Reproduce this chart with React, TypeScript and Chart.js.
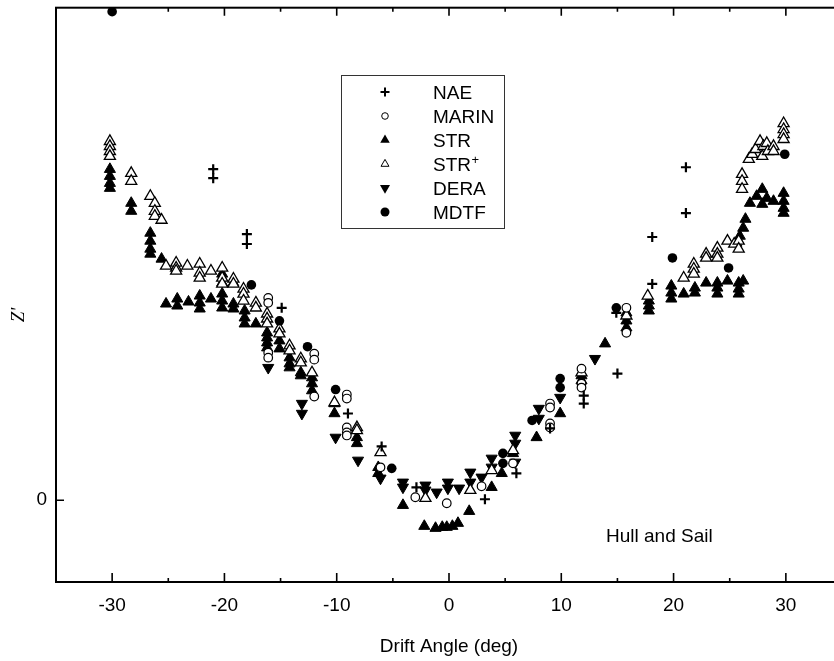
import React, { useEffect, useRef } from 'react';
import { Chart, registerables } from 'chart.js';

Chart.register(...registerables);

// ---- data (x = drift angle in deg, y = Z') ----
const naePoints: number[][] = [
  [-21.0, 3.32], [-21.0, 3.23], [-18.0, 2.67], [-18.0, 2.57], [-14.9, 1.93], [-9.0, 0.87], [-6.0, 0.54],
  [-2.9, 0.13], [3.2, 0.01], [6.0, 0.27], [9.0, 0.72], [12.0, 1.05], [12.0, 0.97], [15.0, 1.27], [14.9, 1.88],
  [18.1, 2.17], [18.1, 2.64], [21.1, 2.88], [21.1, 3.34],
];

const marinPoints: number[][] = [
  [-16.1, 2.03], [-16.1, 1.98], [-16.1, 1.48], [-16.1, 1.43], [-12.0, 1.47], [-12.0, 1.41], [-12.0, 1.04],
  [-9.1, 1.06], [-9.1, 1.02], [-9.1, 0.73], [-9.1, 0.68], [-9.1, 0.65], [-6.1, 0.33], [-3.0, 0.03], [-0.2, -0.03],
  [2.9, 0.14], [5.7, 0.37], [9.0, 0.97], [9.0, 0.93], [9.0, 0.77], [9.0, 0.73], [11.8, 1.32], [11.8, 1.17],
  [11.8, 1.13], [15.8, 1.93], [15.8, 1.68],
];

const strPoints: number[][] = [
  [-30.2, 3.32], [-30.2, 3.25], [-30.2, 3.18], [-30.2, 3.13], [-28.3, 2.98], [-28.3, 2.90],
  [-26.6, 2.68], [-26.6, 2.60], [-26.6, 2.52], [-26.6, 2.47], [-25.6, 2.42],
  [-25.2, 1.97], [-24.2, 2.02], [-24.2, 1.95], [-23.2, 1.99], [-22.2, 2.05], [-22.2, 1.98], [-22.2, 1.92],
  [-21.2, 2.02], [-20.2, 2.07], [-20.2, 2.00], [-20.2, 1.93], [-19.2, 1.97], [-19.2, 1.92],
  [-20.2, 2.27], [-20.2, 2.18], [-19.2, 2.18], [-18.2, 1.90], [-18.2, 1.83], [-18.2, 1.77], [-17.2, 1.77],
  [-16.2, 1.68], [-16.2, 1.63], [-16.2, 1.58], [-16.2, 1.53], [-15.1, 1.60], [-15.1, 1.52],
  [-14.2, 1.43], [-14.2, 1.37], [-14.2, 1.33], [-13.2, 1.28], [-13.2, 1.25], [-12.2, 1.23], [-12.2, 1.17], [-12.2, 1.10],
  [-10.2, 0.97], [-10.2, 0.87], [-8.2, 0.63], [-8.2, 0.57], [-6.3, 0.33], [-6.3, 0.27], [-4.1, -0.05],
  [-2.2, -0.26], [-1.2, -0.28], [-0.6, -0.27], [-0.2, -0.27], [0.3, -0.26], [0.8, -0.23], [1.8, -0.11],
  [3.8, 0.13], [4.7, 0.27], [5.7, 0.47], [7.8, 0.63], [9.9, 0.87], [11.8, 1.25], [11.8, 1.20], [13.9, 1.57],
  [15.8, 1.88], [15.8, 1.80], [15.8, 1.73], [17.8, 2.00], [17.8, 1.95], [17.8, 1.90],
  [19.8, 2.15], [19.8, 2.08], [19.8, 2.02], [20.9, 2.07], [21.9, 2.13], [21.9, 2.08], [22.9, 2.18],
  [23.9, 2.18], [23.9, 2.13], [23.9, 2.07], [24.8, 2.20], [25.8, 2.18], [25.8, 2.12], [25.8, 2.07], [26.2, 2.20],
  [25.6, 2.58], [25.9, 2.65], [26.2, 2.73], [26.4, 2.82],
  [26.8, 2.98], [27.4, 3.05], [27.9, 3.12], [28.3, 3.03], [27.9, 2.97], [28.9, 3.00],
  [29.8, 3.08], [29.8, 3.00], [29.8, 2.93], [29.8, 2.88],
];

const strPlusPoints: number[][] = [
  [-30.2, 3.60], [-30.2, 3.55], [-30.2, 3.50], [-30.2, 3.45], [-28.3, 3.28], [-28.3, 3.20], [-26.6, 3.05],
  [-26.2, 2.98], [-26.2, 2.90], [-26.2, 2.85], [-25.6, 2.81],
  [-25.2, 2.35], [-24.3, 2.38], [-24.3, 2.33], [-24.3, 2.30], [-23.3, 2.35], [-22.2, 2.37], [-22.2, 2.28],
  [-22.2, 2.23], [-21.2, 2.30], [-20.2, 2.33], [-20.2, 2.23], [-20.2, 2.17], [-19.2, 2.22], [-19.2, 2.17],
  [-18.3, 2.12], [-18.3, 2.07], [-18.3, 2.00], [-17.2, 1.98], [-17.2, 1.93], [-16.2, 1.87], [-16.2, 1.82],
  [-16.2, 1.77], [-15.1, 1.72], [-15.1, 1.67], [-14.2, 1.55], [-14.2, 1.50], [-13.2, 1.42], [-13.2, 1.38],
  [-12.2, 1.28], [-10.2, 0.98], [-8.2, 0.73], [-8.2, 0.70], [-6.1, 0.48], [-2.1, 0.02], [1.9, 0.10],
  [3.8, 0.30], [5.7, 0.50], [11.8, 1.28], [15.8, 1.85], [17.7, 2.05],
  [20.9, 2.23], [21.8, 2.37], [21.8, 2.32], [21.8, 2.27], [22.9, 2.47], [22.9, 2.43], [23.9, 2.53],
  [23.9, 2.47], [23.9, 2.43], [24.8, 2.60], [25.4, 2.57], [25.8, 2.60], [25.8, 2.52],
  [26.1, 3.27], [26.1, 3.20], [26.1, 3.12],
  [26.7, 3.42], [27.0, 3.47], [27.3, 3.52], [27.7, 3.60], [28.0, 3.55], [28.3, 3.58], [27.9, 3.45],
  [28.4, 3.50], [28.9, 3.55], [28.9, 3.50],
  [29.8, 3.78], [29.8, 3.72], [29.8, 3.67], [29.8, 3.62],
];

const deraPoints: number[][] = [
  [-16.1, 1.33], [-13.1, 0.97], [-13.1, 0.87], [-10.1, 0.63], [-8.1, 0.40], [-6.1, 0.22], [-4.1, 0.18],
  [-4.1, 0.13], [-2.1, 0.15], [-2.1, 0.10], [-1.1, 0.08], [-0.1, 0.18], [-0.1, 0.12], [0.9, 0.12],
  [1.9, 0.28], [1.9, 0.18], [2.9, 0.23], [3.8, 0.42], [3.8, 0.33], [5.9, 0.65], [5.9, 0.57], [5.9, 0.38],
  [8.0, 0.92], [8.0, 0.82], [9.9, 1.03], [13.0, 1.42],
];

const mdtfPoints: number[][] = [
  [-30.0, 4.90], [-17.6, 2.16], [-15.1, 1.80], [-12.6, 1.54], [-10.1, 1.11], [-5.1, 0.32], [4.8, 0.47],
  [4.8, 0.37], [7.4, 0.80], [9.9, 1.22], [9.9, 1.13], [14.9, 1.93], [19.9, 2.43], [24.9, 2.33], [29.9, 3.47],
];

const seriesNames = ['NAE', 'MARIN', 'STR', 'STR+', 'DERA', 'MDTF'];
const xTickValues = [-30, -20, -10, 0, 10, 20, 30];
const xMinorTickValues = [-25, -15, -5, 5, 15, 25];
const yTickValues = [0];
const xTitle = 'Drift Angle (deg)';
const yTitle = "Z'";
const annotation = 'Hull and Sail';

const SANS = "'Liberation Sans', Arial, Helvetica, sans-serif";

const toXY = (pts: number[][]) => pts.map(([x, y]) => ({ x, y }));

function drawSymbol(ctx: CanvasRenderingContext2D, kind: string, cx: number, cy: number) {
  ctx.save();
  ctx.strokeStyle = '#000';
  ctx.fillStyle = '#000';
  if (kind === 'NAE') {
    ctx.lineWidth = 2;
    ctx.beginPath();
    ctx.moveTo(cx - 4.5, cy); ctx.lineTo(cx + 4.5, cy);
    ctx.moveTo(cx, cy - 4.5); ctx.lineTo(cx, cy + 4.5);
    ctx.stroke();
  } else if (kind === 'MARIN') {
    ctx.lineWidth = 1;
    ctx.beginPath(); ctx.arc(cx, cy, 3.3, 0, Math.PI * 2); ctx.stroke();
  } else if (kind === 'MDTF') {
    ctx.beginPath(); ctx.arc(cx, cy, 4.5, 0, Math.PI * 2); ctx.fill();
  } else if (kind === 'STR' || kind === 'STR+') {
    const r = kind === 'STR' ? 5.5 : 4.6;
    ctx.beginPath();
    ctx.moveTo(cx, cy - r);
    ctx.lineTo(cx + r * 0.866, cy + r * 0.5);
    ctx.lineTo(cx - r * 0.866, cy + r * 0.5);
    ctx.closePath();
    if (kind === 'STR') ctx.fill();
    else { ctx.lineWidth = 1; ctx.fillStyle = '#fff'; ctx.fill(); ctx.stroke(); }
  } else if (kind === 'DERA') {
    const r = 5.8;
    ctx.beginPath();
    ctx.moveTo(cx, cy + r);
    ctx.lineTo(cx + r * 0.866, cy - r * 0.5);
    ctx.lineTo(cx - r * 0.866, cy - r * 0.5);
    ctx.closePath();
    ctx.fill();
  }
  ctx.restore();
}

const decorPlugin = {
  id: 'decor',
  afterDraw(chart: any) {
    const { ctx, chartArea: a, scales } = chart;
    const xs = scales.x;
    const ys = scales.y;
    ctx.save();
    // frame
    ctx.strokeStyle = '#000';
    ctx.lineWidth = 2;
    ctx.strokeRect(a.left, a.top, a.right - a.left, a.bottom - a.top);
    // inward ticks
    ctx.lineWidth = 1.6;
    ctx.beginPath();
    xTickValues.forEach((v) => {
      const px = xs.getPixelForValue(v);
      ctx.moveTo(px, a.bottom); ctx.lineTo(px, a.bottom - 9);
      ctx.moveTo(px, a.top); ctx.lineTo(px, a.top + 8);
    });
    xMinorTickValues.forEach((v) => {
      const px = xs.getPixelForValue(v);
      ctx.moveTo(px, a.bottom); ctx.lineTo(px, a.bottom - 4);
      ctx.moveTo(px, a.top); ctx.lineTo(px, a.top + 4);
    });
    yTickValues.forEach((v) => {
      const py = ys.getPixelForValue(v);
      ctx.moveTo(a.left, py); ctx.lineTo(a.left + 8, py);
      ctx.moveTo(a.right, py); ctx.lineTo(a.right - 8, py);
    });
    ctx.stroke();

    // y title
    ctx.save();
    ctx.translate(19, 315);
    ctx.rotate(-Math.PI / 2);
    ctx.font = "italic 19px 'Liberation Serif', 'Times New Roman', serif";
    ctx.fillStyle = '#000';
    ctx.textAlign = 'center';
    ctx.textBaseline = 'middle';
    ctx.fillText(yTitle, 0, 0);
    ctx.restore();

    // annotation
    ctx.font = `19px ${SANS}`;
    ctx.fillStyle = '#000';
    ctx.textAlign = 'left';
    ctx.textBaseline = 'alphabetic';
    ctx.fillText(annotation, 606, 542);

    // legend
    ctx.lineWidth = 1;
    ctx.strokeStyle = '#333';
    ctx.strokeRect(341.5, 75.5, 163, 153);
    seriesNames.forEach((name, i) => {
      const cy = 92 + i * 24;
      drawSymbol(ctx, name, 385, cy);
      ctx.fillStyle = '#000';
      ctx.font = `19px ${SANS}`;
      ctx.textAlign = 'left';
      ctx.textBaseline = 'alphabetic';
      const base = 99 + i * 24;
      if (name === 'STR+') {
        ctx.fillText('STR', 433, base);
        const w = ctx.measureText('STR').width;
        ctx.font = `13px ${SANS}`;
        ctx.fillText('+', 433 + w + 0.5, base - 7);
      } else {
        ctx.fillText(name, 433, base);
      }
    });
    ctx.restore();
  },
};

export default function App() {
  const canvasRef = useRef<HTMLCanvasElement | null>(null);

  useEffect(() => {
    const canvas = canvasRef.current;
    if (!canvas) return;
    const common = { showLine: false, clip: false as any, borderColor: '#000' };
    const chart = new Chart(canvas, {
      type: 'scatter',
      data: {
        datasets: [
          { ...common, label: 'MDTF', data: toXY(mdtfPoints), pointStyle: 'circle', pointRadius: 4.8, backgroundColor: '#000', pointBorderWidth: 0 },
          { ...common, label: 'NAE', data: toXY(naePoints), pointStyle: 'cross', pointRadius: 5, pointBorderWidth: 2.2, backgroundColor: '#000' },
          { ...common, label: 'MARIN', data: toXY(marinPoints), pointStyle: 'circle', pointRadius: 4.3, pointBorderWidth: 1.2, backgroundColor: '#fff' },
          { ...common, label: 'STR+', data: toXY(strPlusPoints), pointStyle: 'triangle', pointRadius: 6.4, pointBorderWidth: 1.3, backgroundColor: '#fff' },
          { ...common, label: 'STR', data: toXY(strPoints), pointStyle: 'triangle', pointRadius: 6.4, pointBorderWidth: 1, backgroundColor: '#000' },
          { ...common, label: 'DERA', data: toXY(deraPoints), pointStyle: 'triangle', pointRotation: 180, pointRadius: 6.4, pointBorderWidth: 1, backgroundColor: '#000' },
        ] as any,
      },
      options: {
        animation: false,
        responsive: false,
        devicePixelRatio: 1,
        events: [],
        layout: { padding: { top: 6, right: 8, left: 0, bottom: 0 } },
        plugins: { legend: { display: false }, tooltip: { enabled: false } },
        scales: {
          x: {
            type: 'linear',
            position: 'bottom',
            min: -35,
            max: 35,
            grid: { display: false, drawTicks: false },
            border: { display: false },
            afterBuildTicks: (s: any) => { s.ticks = xTickValues.map((v) => ({ value: v })); },
            afterFit: (s: any) => { s.height = 79; s.paddingLeft = 0; s.paddingRight = 0; },
            ticks: {
              autoSkip: false,
              maxRotation: 0,
              padding: 12,
              color: '#000',
              font: { family: SANS, size: 19 },
              callback: (v: any) => String(v),
            },
            title: {
              display: true,
              text: xTitle,
              color: '#000',
              font: { family: SANS, size: 19 },
              padding: { top: 0, bottom: 3 },
            },
          },
          y: {
            type: 'linear',
            min: -0.82,
            max: 4.94,
            grid: { display: false, drawTicks: false },
            border: { display: false },
            afterBuildTicks: (s: any) => { s.ticks = yTickValues.map((v) => ({ value: v })); },
            afterFit: (s: any) => { s.width = 56; s.paddingTop = 0; s.paddingBottom = 0; },
            ticks: {
              padding: 9,
              color: '#000',
              font: { family: SANS, size: 19 },
              callback: (v: any) => String(v),
            },
          },
        },
      } as any,
      plugins: [decorPlugin],
    });
    return () => chart.destroy();
  }, []);

  return (
    <div style={{ position: 'absolute', left: 0, top: 0, width: 834, height: 661, overflow: 'hidden', background: '#fff' }}>
      <canvas ref={canvasRef} width={850} height={661} style={{ display: 'block', width: 850, height: 661 }} />
    </div>
  );
}
